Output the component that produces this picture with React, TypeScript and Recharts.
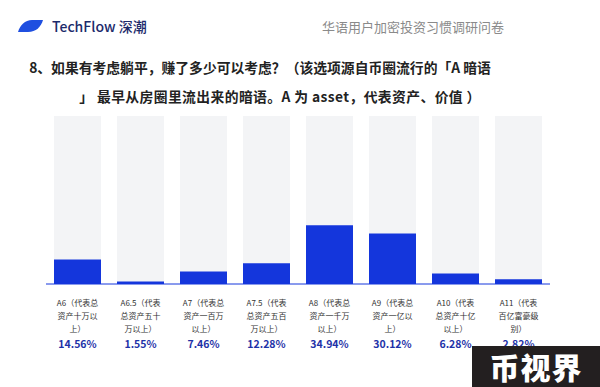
import React from 'react';
import { BarChart, Bar, XAxis, YAxis } from 'recharts';

const categories = ['A6', 'A6.5', 'A7', 'A7.5', 'A8', 'A9', 'A10', 'A11'];
const labelLines = [
  ['A6（代表总', '资产十万以', '上）'],
  ['A6.5（代表', '总资产五十', '万以上）'],
  ['A7（代表总', '资产一百万', '以上）'],
  ['A7.5（代表', '总资产五百', '万以上）'],
  ['A8（代表总', '资产一千万', '以上）'],
  ['A9（代表总', '资产一亿以', '上）'],
  ['A10（代表', '总资产十亿', '以上）'],
  ['A11（代表', '百亿富豪级', '别）'],
];
const values = [14.56, 1.55, 7.46, 12.28, 34.94, 30.12, 6.28, 2.82];
const percentLabels = ['14.56%', '1.55%', '7.46%', '12.28%', '34.94%', '30.12%', '6.28%', '2.82%'];

const titleLine1 = '8、如果有考虑躺平，赚了多少可以考虑？（该选项源自币圈流行的「A 暗语';
const titleLine2 = '」 最早从房圈里流出来的暗语。A 为 asset，代表资产、价值 ）';
const brand = 'TechFlow 深潮';
const surveyName = '华语用户加密投资习惯调研问卷';
const stamp = '币视界';

const data = categories.map((c, i) => ({ name: c, value: values[i] }));

const FONT = '"Noto Sans CJK SC", "Noto Sans", sans-serif';
const BLUE = '#1436dc';

const Tick = (props: any) => {
  const { x, y, payload } = props;
  const idx = categories.indexOf(payload.value);
  const lines = labelLines[idx] || [];
  return (
    <g>
      {lines.map((l, k) => (
        <text key={k} x={x} y={y + 14 + k * 13} textAnchor="middle" fontSize={8} fill="#333" fontFamily={FONT}>
          {l}
        </text>
      ))}
      <text x={x} y={y + 56} textAnchor="middle" fontSize={10.5} fontWeight={700} fill="#1e32a8" fontFamily={FONT}>
        {percentLabels[idx]}
      </text>
    </g>
  );
};

export default function App() {
  return (
    <div style={{ position: 'absolute', left: 0, top: 0, width: 600, height: 387, background: '#fff', overflow: 'hidden', fontFamily: FONT }}>
      <BarChart
        width={600}
        height={387}
        data={data}
        margin={{ top: 116, right: 50, bottom: 0, left: 46 }}
        barCategoryGap={8}
      >
        <YAxis hide domain={[0, 100]} />
        <XAxis
          dataKey="name"
          interval={0}
          tickLine={false}
          axisLine={{ stroke: BLUE, strokeWidth: 1 }}
          tick={<Tick />}
          height={103}
        />
        <Bar dataKey="value" fill={BLUE} background={{ fill: '#f3f4f6' }} isAnimationActive={false} />
      </BarChart>

      {/* header */}
      <svg style={{ position: 'absolute', left: 16, top: 19 }} width={28} height={14}>
        <path d="M2 13 C4 6 9 1 16 1 L27 1 C25 8 20 13 12 13 Z" fill="#1f4fe0" />
      </svg>
      <div style={{ position: 'absolute', left: 52, top: 16, fontSize: 14, color: '#1c2a6b', fontWeight: 500, lineHeight: '20px', whiteSpace: 'nowrap' }}>
        {brand}
      </div>
      <div style={{ position: 'absolute', left: 322, top: 17, fontSize: 13, color: '#8a8a8a', lineHeight: '20px', whiteSpace: 'nowrap' }}>
        {surveyName}
      </div>

      {/* title */}
      <div style={{ position: 'absolute', left: 0, width: 520, top: 56, textAlign: 'center', fontSize: 13.8, fontWeight: 700, color: '#222', lineHeight: '22px', whiteSpace: 'nowrap' }}>
        {titleLine1}
      </div>
      <div style={{ position: 'absolute', left: 0, width: 560, top: 85, textAlign: 'center', fontSize: 13.8, fontWeight: 700, color: '#222', lineHeight: '22px', whiteSpace: 'nowrap', letterSpacing: 0.4 }}>
        {titleLine2}
      </div>

      {/* stamp */}
      <div style={{ position: 'absolute', left: 472, top: 346, width: 128, height: 41, background: '#231f20', color: '#fff', fontSize: 30, fontWeight: 900, lineHeight: '41px', textAlign: 'center', letterSpacing: 1 }}>
        {stamp}
      </div>
    </div>
  );
}
